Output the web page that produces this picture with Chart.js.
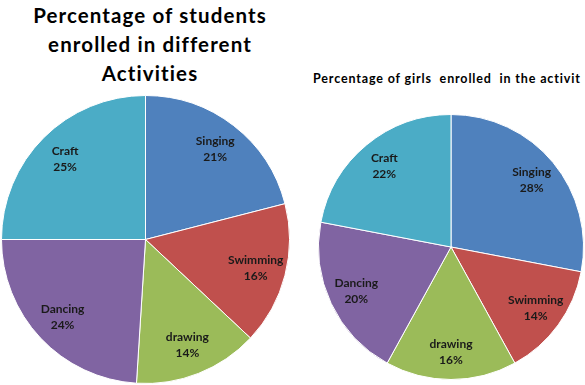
<!DOCTYPE html>
<html>
<head>
<meta charset="utf-8">
<script src="https://cdn.jsdelivr.net/npm/chart.js@4/dist/chart.umd.min.js"></script>
<style>
  html, body { margin: 0; padding: 0; background: #fff; width: 585px; height: 385px; overflow: hidden; }
  .box { position: absolute; }
  #t1 { position: absolute; left: 0; top: 1px; width: 300px; text-align: center; font-family: Lato, "Open Sans", sans-serif; font-weight: bold; font-size: 20.5px; line-height: 29px; letter-spacing: 1.1px; color: #000; }
  #t2 { position: absolute; left: 313px; top: 71px; white-space: nowrap; font-family: Lato, "Open Sans", sans-serif; font-weight: bold; font-size: 12.5px; letter-spacing: 0.85px; color: #000; }
</style>
</head>
<body>
<div id="t1">Percentage of students<br>enrolled in different<br>Activities</div>
<div id="t2">Percentage of girls&nbsp; enrolled&nbsp; in the activit</div>
<div class="box" style="left:1px;top:95px;width:289px;height:289px;"><canvas id="c1"></canvas></div>
<div class="box" style="left:318px;top:114px;width:266px;height:266px;"><canvas id="c2"></canvas></div>
<script>
const categories = ["Singing", "Swimming", "drawing", "Dancing", "Craft"];
const studentsPct = [21, 16, 14, 24, 25];
const girlsPct = [28, 14, 16, 20, 22];
const sliceColors = ["#4F81BD", "#C0504D", "#9BBB59", "#8064A2", "#4BACC6"];

const labelPlugin = {
  id: 'sliceLabels',
  afterDatasetsDraw(chart) {
    const ctx = chart.ctx;
    const meta = chart.getDatasetMeta(0);
    const data = chart.data.datasets[0].data;
    ctx.save();
    ctx.fillStyle = '#1a1a1a';
    ctx.font = 'bold 12px Lato, "Open Sans", sans-serif';
    ctx.textAlign = 'center';
    ctx.textBaseline = 'middle';
    meta.data.forEach((arc, i) => {
      const p = arc.getProps(['x', 'y', 'startAngle', 'endAngle', 'outerRadius'], true);
      const mid = (p.startAngle + p.endAngle) / 2;
      const r = p.outerRadius * 0.79;
      const x = p.x + Math.cos(mid) * r;
      const y = p.y + Math.sin(mid) * r;
      ctx.fillText(chart.data.labels[i], x, y - 8);
      ctx.fillText(data[i] + '%', x, y + 8);
    });
    ctx.restore();
  }
};

function makePie(id, values) {
  return new Chart(document.getElementById(id), {
    type: 'pie',
    data: {
      labels: categories,
      datasets: [{
        data: values,
        backgroundColor: sliceColors,
        borderColor: '#ffffff',
        borderWidth: 1,
        hoverOffset: 0,
        offset: 0
      }]
    },
    options: {
      responsive: true,
      maintainAspectRatio: false,
      animation: false,
      events: [],
      layout: { padding: 0 },
      plugins: { legend: { display: false }, tooltip: { enabled: false }, title: { display: false } }
    },
    plugins: [labelPlugin]
  });
}
makePie('c1', studentsPct);
makePie('c2', girlsPct);
</script>
</body>
</html>
